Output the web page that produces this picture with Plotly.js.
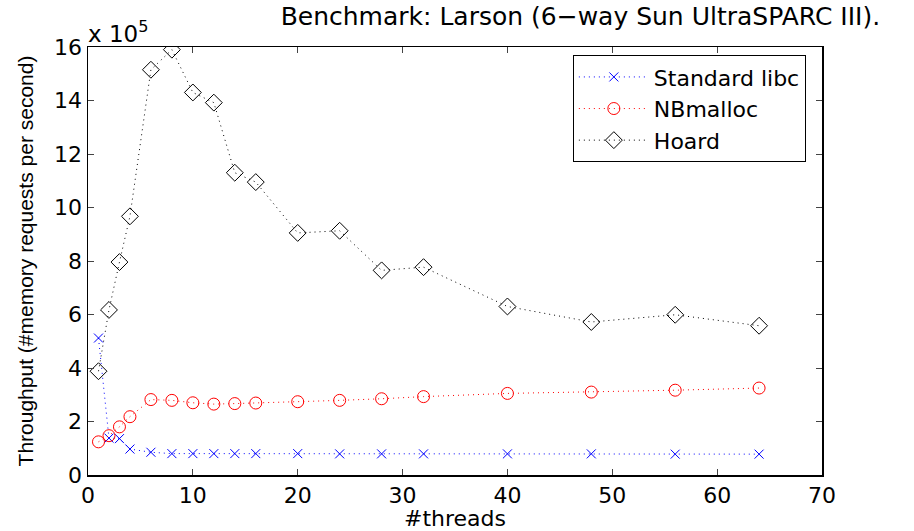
<!DOCTYPE html>
<html><head><meta charset="utf-8">
<script src="https://cdn.plot.ly/plotly-3.0.1.min.js"></script>
<style>body{margin:0;background:#fff}#c{width:914px;height:531px}</style>
</head><body><div id="c"></div>
<script>
const threads = [1,2,3,4,6,8,10,12,14,16,20,24,28,32,40,48,56,64];
const libc = [5.12,1.38,1.36,0.97,0.85,0.8,0.8,0.8,0.8,0.8,0.8,0.79,0.79,0.79,0.79,0.79,0.78,0.78];
const nbmalloc = [1.24,1.47,1.8,2.18,2.82,2.79,2.7,2.65,2.67,2.69,2.74,2.79,2.85,2.93,3.05,3.1,3.17,3.25];
const hoard = [3.88,6.17,7.96,9.67,15.15,15.9,14.3,13.92,11.3,10.95,9.05,9.13,7.65,7.77,6.3,5.72,5.99,5.58];
const yTicks = [0,2,4,6,8,10,12,14,16];
const xTicks = [0,10,20,30,40,50,60,70];

const wide = {family:'DejaVu Sans, Liberation Sans, sans-serif', color:'#000'};
const narrow = {family:'Liberation Sans, Arial, sans-serif', color:'#000'};
const F = (base, size) => Object.assign({size:size}, base);
function tr(name, y, color, symbol, size){
  return {x:threads, y:y, name:name, type:'scatter', mode:'lines+markers',
    line:{color:color, width:1, dash:'1px,4px'},
    marker:{symbol:symbol, size:size, color:color, line:{color:color, width:1}}};
}
const data = [
  tr('Standard libc', libc, '#0000ff', 'x-thin-open', 9),
  tr('NBmalloc', nbmalloc, '#ff0000', 'circle-open', 12),
  tr('Hoard', hoard, '#000000', 'diamond-open', 13)
];
const layout = {
  width:914, height:531,
  margin:{l:88, r:92, t:47, b:56},
  paper_bgcolor:'#fff', plot_bgcolor:'#fff',
  font:F(wide, 22),
  title:{text:'Benchmark: Larson (6−way Sun UltraSPARC III).', x:0.635, xanchor:'center', y:0.985, yanchor:'top', font:F(wide, 25)},
  xaxis:{range:[0,70], tickvals:xTicks, ticks:'inside', ticklen:6, mirror:'ticks', showline:true, linecolor:'#000', linewidth:1.5, showgrid:false, zeroline:false,
    title:{text:'#threads', standoff:0, font:F(wide, 22)}, tickfont:F(wide, 22)},
  yaxis:{range:[0,16], tickvals:yTicks, ticks:'inside', ticklen:6, mirror:'ticks', showline:true, linecolor:'#000', linewidth:1.5, showgrid:false, zeroline:false,
    title:{text:'Throughput (#memory requests per second)', standoff:14, font:F(narrow, 21)}, tickfont:F(wide, 22)},
  legend:{x:0.978, xanchor:'right', y:0.981, yanchor:'top', bordercolor:'#000', borderwidth:1, bgcolor:'#fff', font:F(wide, 22), tracegroupgap:0, itemwidth:70},
  annotations:[{xref:'paper', yref:'paper', x:0, y:1, xanchor:'left', yanchor:'bottom', showarrow:false, text:'x 10<sup>5</sup>', font:F(wide, 23), yshift:-2, xshift:-2}],
  showlegend:true
};
Plotly.newPlot('c', data, layout, {staticPlot:true});
</script></body></html>
